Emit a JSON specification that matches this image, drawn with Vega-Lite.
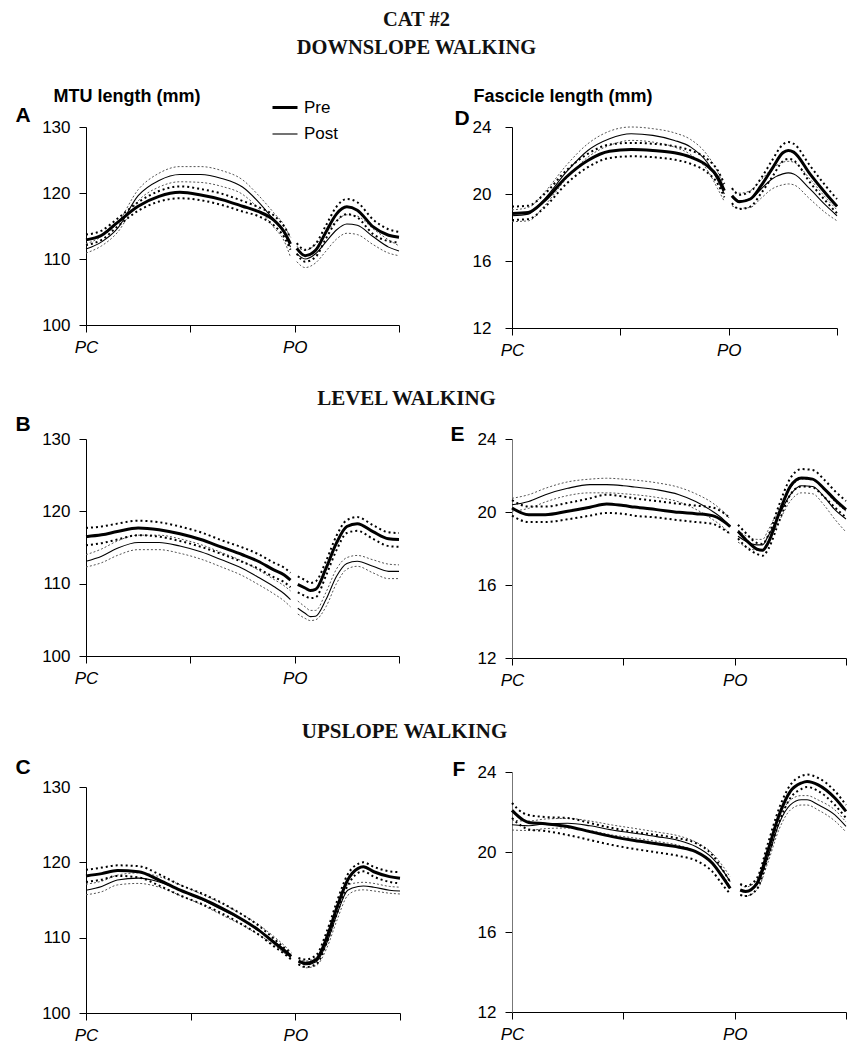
{
"$schema": "https://vega.github.io/schema/vega-lite/v6.json",
"padding": {"left": 15, "top": 9, "right": 2, "bottom": 2},
"background": "white",
"title": {"text": ["CAT #2", "DOWNSLOPE WALKING"], "font": "Liberation Serif", "fontSize": 20.5, "fontWeight": "bold", "color": "#111", "anchor": "middle", "lineHeight": 28, "offset": 29, "dx": -17},
"columns": 2,
"align": "each",
"bounds": "flush",
"spacing": {"row": 111, "column": 112},
"resolve": {"legend": {"strokeWidth": "independent"}},
"config": {
  "view": {"stroke": null},
  "axis": {"grid": false, "domainColor": "#000", "tickColor": "#000", "labelColor": "#000", "titleColor": "#000", "labelFont": "Liberation Sans", "labelFontSize": 17, "tickSize": 7, "labelPadding": 9, "labelFontWeight": "normal", "labelFlush": false}
},
"datasets": {
"A": [
{"x":0,"s":1,"Pre":112.9,"PreU":113.7,"PreL":112.1,"Post":111.5,"PostU":112.3,"PostL":110.9},
{"x":0.15,"s":1,"Pre":113.6,"PreU":114.3,"PreL":112.9,"Post":112.6,"PostU":113.4,"PostL":112.0},
{"x":0.3,"s":1,"Pre":115.5,"PreU":116.1,"PreL":114.9,"Post":114.6,"PostU":115.4,"PostL":114.0},
{"x":0.5,"s":1,"Pre":118.0,"PreU":118.6,"PreL":117.3,"Post":119.6,"PostU":120.5,"PostL":118.8},
{"x":0.7,"s":1,"Pre":119.5,"PreU":120.3,"PreL":118.7,"Post":121.9,"PostU":123.0,"PostL":120.9},
{"x":0.9,"s":1,"Pre":120.1,"PreU":121.0,"PreL":119.2,"Post":122.8,"PostU":124.0,"PostL":121.7},
{"x":1.1,"s":1,"Pre":119.7,"PreU":120.6,"PreL":118.9,"Post":122.8,"PostU":124.0,"PostL":121.6},
{"x":1.3,"s":1,"Pre":119.0,"PreU":119.9,"PreL":118.2,"Post":122.2,"PostU":123.4,"PostL":121.0},
{"x":1.5,"s":1,"Pre":118.0,"PreU":118.8,"PreL":117.2,"Post":120.9,"PostU":122.0,"PostL":119.8},
{"x":1.65,"s":1,"Pre":117.2,"PreU":117.9,"PreL":116.5,"Post":118.7,"PostU":119.7,"PostL":117.7},
{"x":1.8,"s":1,"Pre":115.9,"PreU":116.6,"PreL":115.1,"Post":115.9,"PostU":117.0,"PostL":114.8},
{"x":1.9,"s":1,"Pre":114.1,"PreU":114.9,"PreL":113.3,"Post":113.9,"PostU":115.1,"PostL":112.7},
{"x":1.96,"s":1,"Pre":112.3,"PreU":113.2,"PreL":111.4,"Post":111.8,"PostU":113.2,"PostL":110.3},
{"x":2.02,"s":2,"Pre":111.6,"PreU":112.4,"PreL":110.8,"Post":110.8,"PostU":111.9,"PostL":109.6},
{"x":2.1,"s":2,"Pre":110.5,"PreU":111.4,"PreL":109.6,"Post":110.0,"PostU":111.3,"PostL":108.7},
{"x":2.2,"s":2,"Pre":111.3,"PreU":112.3,"PreL":110.3,"Post":110.8,"PostU":112.2,"PostL":109.4},
{"x":2.3,"s":2,"Pre":114.1,"PreU":115.1,"PreL":113.1,"Post":112.6,"PostU":114.0,"PostL":111.2},
{"x":2.4,"s":2,"Pre":116.8,"PreU":117.9,"PreL":115.7,"Post":114.4,"PostU":115.8,"PostL":113.0},
{"x":2.5,"s":2,"Pre":117.9,"PreU":119.1,"PreL":116.8,"Post":115.3,"PostU":116.7,"PostL":113.9},
{"x":2.6,"s":2,"Pre":117.4,"PreU":118.6,"PreL":116.3,"Post":115.1,"PostU":116.5,"PostL":113.7},
{"x":2.75,"s":2,"Pre":114.9,"PreU":116.0,"PreL":113.8,"Post":113.4,"PostU":114.6,"PostL":112.2},
{"x":2.9,"s":2,"Pre":113.6,"PreU":114.5,"PreL":112.7,"Post":111.8,"PostU":112.9,"PostL":110.9},
{"x":3.0,"s":2,"Pre":113.3,"PreU":114.1,"PreL":112.5,"Post":111.2,"PostU":112.0,"PostL":110.5}
],
"D": [
{"x":0,"s":1,"Pre":18.84,"PreU":19.25,"PreL":18.45,"Post":18.7,"PostU":19.05,"PostL":18.35},
{"x":0.15,"s":1,"Pre":18.9,"PreU":19.3,"PreL":18.5,"Post":18.8,"PostU":19.2,"PostL":18.4},
{"x":0.3,"s":1,"Pre":19.6,"PreU":20.0,"PreL":19.2,"Post":19.7,"PostU":20.1,"PostL":19.3},
{"x":0.5,"s":1,"Pre":21.0,"PreU":21.4,"PreL":20.6,"Post":21.3,"PostU":21.7,"PostL":20.9},
{"x":0.7,"s":1,"Pre":22.0,"PreU":22.4,"PreL":21.6,"Post":22.6,"PostU":23.0,"PostL":22.2},
{"x":0.9,"s":1,"Pre":22.55,"PreU":22.95,"PreL":22.15,"Post":23.3,"PostU":23.75,"PostL":22.9},
{"x":1.1,"s":1,"Pre":22.66,"PreU":23.05,"PreL":22.25,"Post":23.6,"PostU":24.0,"PostL":23.2},
{"x":1.3,"s":1,"Pre":22.6,"PreU":23.0,"PreL":22.2,"Post":23.5,"PostU":23.9,"PostL":23.1},
{"x":1.5,"s":1,"Pre":22.46,"PreU":22.85,"PreL":22.05,"Post":23.2,"PostU":23.65,"PostL":22.8},
{"x":1.65,"s":1,"Pre":22.2,"PreU":22.6,"PreL":21.8,"Post":22.8,"PostU":23.25,"PostL":22.35},
{"x":1.8,"s":1,"Pre":21.7,"PreU":22.1,"PreL":21.3,"Post":21.9,"PostU":22.35,"PostL":21.45},
{"x":1.9,"s":1,"Pre":21.0,"PreU":21.4,"PreL":20.6,"Post":20.8,"PostU":21.3,"PostL":20.3},
{"x":1.96,"s":1,"Pre":20.2,"PreU":20.6,"PreL":19.8,"Post":20.0,"PostU":20.45,"PostL":19.55},
{"x":2.03,"s":2,"Pre":19.9,"PreU":20.35,"PreL":19.45,"Post":19.8,"PostU":20.3,"PostL":19.3},
{"x":2.1,"s":2,"Pre":19.54,"PreU":19.95,"PreL":19.1,"Post":19.6,"PostU":20.05,"PostL":19.15},
{"x":2.2,"s":2,"Pre":19.7,"PreU":20.15,"PreL":19.25,"Post":19.7,"PostU":20.2,"PostL":19.2},
{"x":2.3,"s":2,"Pre":20.5,"PreU":20.95,"PreL":20.05,"Post":20.3,"PostU":20.85,"PostL":19.75},
{"x":2.4,"s":2,"Pre":21.5,"PreU":22.0,"PreL":21.0,"Post":20.9,"PostU":21.5,"PostL":20.3},
{"x":2.5,"s":2,"Pre":22.46,"PreU":22.95,"PreL":21.95,"Post":21.2,"PostU":21.9,"PostL":20.55},
{"x":2.55,"s":2,"Pre":22.6,"PreU":23.1,"PreL":22.1,"Post":21.26,"PostU":21.95,"PostL":20.6},
{"x":2.6,"s":2,"Pre":22.5,"PreU":23.0,"PreL":22.0,"Post":21.2,"PostU":21.9,"PostL":20.55},
{"x":2.75,"s":2,"Pre":21.2,"PreU":21.7,"PreL":20.7,"Post":20.3,"PostU":20.9,"PostL":19.7},
{"x":2.9,"s":2,"Pre":20.0,"PreU":20.45,"PreL":19.55,"Post":19.3,"PostU":19.75,"PostL":18.85},
{"x":3.0,"s":2,"Pre":19.26,"PreU":19.7,"PreL":18.85,"Post":18.7,"PostU":19.05,"PostL":18.4}
],
"B": [
{"x":0,"s":1,"Pre":116.5,"PreU":117.7,"PreL":115.3,"Post":113.1,"PostU":114.0,"PostL":112.3},
{"x":0.15,"s":1,"Pre":116.75,"PreU":117.9,"PreL":115.6,"Post":113.8,"PostU":114.8,"PostL":112.9},
{"x":0.3,"s":1,"Pre":117.2,"PreU":118.3,"PreL":116.1,"Post":114.9,"PostU":115.9,"PostL":113.9},
{"x":0.5,"s":1,"Pre":117.7,"PreU":118.7,"PreL":116.7,"Post":115.7,"PostU":116.7,"PostL":114.7},
{"x":0.7,"s":1,"Pre":117.45,"PreU":118.5,"PreL":116.5,"Post":115.7,"PostU":116.7,"PostL":114.7},
{"x":0.9,"s":1,"Pre":116.9,"PreU":117.9,"PreL":115.9,"Post":115.2,"PostU":116.2,"PostL":114.2},
{"x":1.1,"s":1,"Pre":116.1,"PreU":117.1,"PreL":115.1,"Post":114.4,"PostU":115.4,"PostL":113.4},
{"x":1.3,"s":1,"Pre":115.05,"PreU":116.0,"PreL":114.1,"Post":113.3,"PostU":114.3,"PostL":112.3},
{"x":1.5,"s":1,"Pre":114.0,"PreU":115.0,"PreL":113.0,"Post":112.1,"PostU":113.1,"PostL":111.1},
{"x":1.65,"s":1,"Pre":113.1,"PreU":114.1,"PreL":112.1,"Post":110.9,"PostU":111.9,"PostL":109.9},
{"x":1.8,"s":1,"Pre":111.9,"PreU":112.9,"PreL":110.9,"Post":109.6,"PostU":110.6,"PostL":108.6},
{"x":1.9,"s":1,"Pre":111.2,"PreU":112.2,"PreL":110.2,"Post":108.6,"PostU":109.7,"PostL":107.6},
{"x":1.96,"s":1,"Pre":110.5,"PreU":111.5,"PreL":109.5,"Post":107.8,"PostU":109.0,"PostL":106.8},
{"x":2.03,"s":2,"Pre":109.9,"PreU":111.0,"PreL":108.8,"Post":106.6,"PostU":107.6,"PostL":105.8},
{"x":2.1,"s":2,"Pre":109.4,"PreU":110.5,"PreL":108.3,"Post":105.9,"PostU":106.8,"PostL":105.2},
{"x":2.15,"s":2,"Pre":109.05,"PreU":110.1,"PreL":108.0,"Post":105.45,"PostU":106.3,"PostL":104.9},
{"x":2.2,"s":2,"Pre":109.2,"PreU":110.3,"PreL":108.1,"Post":105.5,"PostU":106.3,"PostL":105.0},
{"x":2.3,"s":2,"Pre":112.1,"PreU":113.1,"PreL":111.1,"Post":107.8,"PostU":108.8,"PostL":106.8},
{"x":2.4,"s":2,"Pre":115.6,"PreU":116.6,"PreL":114.6,"Post":111.0,"PostU":112.0,"PostL":110.0},
{"x":2.5,"s":2,"Pre":117.9,"PreU":118.8,"PreL":117.0,"Post":112.8,"PostU":113.6,"PostL":112.0},
{"x":2.6,"s":2,"Pre":118.3,"PreU":119.2,"PreL":117.3,"Post":113.1,"PostU":113.9,"PostL":112.4},
{"x":2.75,"s":2,"Pre":117.2,"PreU":118.1,"PreL":116.2,"Post":112.4,"PostU":113.3,"PostL":111.5},
{"x":2.9,"s":2,"Pre":116.2,"PreU":117.1,"PreL":115.2,"Post":111.7,"PostU":112.7,"PostL":110.7},
{"x":3.0,"s":2,"Pre":116.1,"PreU":117.0,"PreL":115.1,"Post":111.7,"PostU":112.6,"PostL":110.7}
],
"E": [
{"x":0,"s":1,"Pre":20.22,"PreU":20.65,"PreL":19.8,"Post":20.4,"PostU":20.75,"PostL":20.05},
{"x":0.15,"s":1,"Pre":19.85,"PreU":20.3,"PreL":19.45,"Post":20.58,"PostU":20.95,"PostL":20.2},
{"x":0.3,"s":1,"Pre":19.85,"PreU":20.3,"PreL":19.45,"Post":20.95,"PostU":21.3,"PostL":20.55},
{"x":0.5,"s":1,"Pre":20.04,"PreU":20.5,"PreL":19.6,"Post":21.3,"PostU":21.65,"PostL":20.9},
{"x":0.7,"s":1,"Pre":20.26,"PreU":20.75,"PreL":19.8,"Post":21.5,"PostU":21.8,"PostL":21.05},
{"x":0.85,"s":1,"Pre":20.44,"PreU":20.95,"PreL":19.95,"Post":21.5,"PostU":21.85,"PostL":21.05},
{"x":1.0,"s":1,"Pre":20.35,"PreU":20.85,"PreL":19.9,"Post":21.44,"PostU":21.8,"PostL":21.0},
{"x":1.1,"s":1,"Pre":20.27,"PreU":20.75,"PreL":19.8,"Post":21.37,"PostU":21.75,"PostL":20.95},
{"x":1.3,"s":1,"Pre":20.13,"PreU":20.6,"PreL":19.7,"Post":21.22,"PostU":21.6,"PostL":20.8},
{"x":1.5,"s":1,"Pre":19.98,"PreU":20.45,"PreL":19.55,"Post":20.95,"PostU":21.35,"PostL":20.55},
{"x":1.65,"s":1,"Pre":19.91,"PreU":20.35,"PreL":19.45,"Post":20.58,"PostU":21.0,"PostL":20.15},
{"x":1.8,"s":1,"Pre":19.8,"PreU":20.25,"PreL":19.35,"Post":20.04,"PostU":20.5,"PostL":19.6},
{"x":1.9,"s":1,"Pre":19.49,"PreU":19.95,"PreL":19.05,"Post":19.58,"PostU":20.0,"PostL":19.15},
{"x":1.96,"s":1,"Pre":19.2,"PreU":19.65,"PreL":18.8,"Post":19.2,"PostU":19.6,"PostL":18.8},
{"x":2.03,"s":2,"Pre":18.94,"PreU":19.3,"PreL":18.55,"Post":18.67,"PostU":19.0,"PostL":18.35},
{"x":2.1,"s":2,"Pre":18.48,"PreU":18.85,"PreL":18.1,"Post":18.4,"PostU":18.7,"PostL":18.1},
{"x":2.2,"s":2,"Pre":17.97,"PreU":18.3,"PreL":17.7,"Post":18.2,"PostU":18.5,"PostL":17.9},
{"x":2.25,"s":2,"Pre":17.9,"PreU":18.25,"PreL":17.6,"Post":18.2,"PostU":18.5,"PostL":17.9},
{"x":2.3,"s":2,"Pre":18.3,"PreU":18.7,"PreL":17.95,"Post":18.67,"PostU":19.0,"PostL":18.35},
{"x":2.4,"s":2,"Pre":19.95,"PreU":20.4,"PreL":19.5,"Post":19.85,"PostU":20.2,"PostL":19.5},
{"x":2.5,"s":2,"Pre":21.4,"PreU":21.85,"PreL":20.95,"Post":20.95,"PostU":21.3,"PostL":20.6},
{"x":2.6,"s":2,"Pre":21.86,"PreU":22.35,"PreL":21.4,"Post":21.44,"PostU":21.8,"PostL":21.05},
{"x":2.7,"s":2,"Pre":21.8,"PreU":22.3,"PreL":21.35,"Post":21.4,"PostU":21.75,"PostL":21.0},
{"x":2.8,"s":2,"Pre":21.3,"PreU":21.8,"PreL":20.85,"Post":20.86,"PostU":21.25,"PostL":20.4},
{"x":2.9,"s":2,"Pre":20.68,"PreU":21.15,"PreL":20.25,"Post":20.13,"PostU":20.55,"PostL":19.6},
{"x":3.0,"s":2,"Pre":20.13,"PreU":20.6,"PreL":19.7,"Post":19.62,"PostU":20.05,"PostL":18.9}
],
"C": [
{"x":0,"s":1,"Pre":118.2,"PreU":119.0,"PreL":117.4,"Post":116.3,"PostU":117.1,"PostL":115.7},
{"x":0.15,"s":1,"Pre":118.5,"PreU":119.3,"PreL":117.7,"Post":116.8,"PostU":117.5,"PostL":116.1},
{"x":0.3,"s":1,"Pre":118.9,"PreU":119.6,"PreL":118.2,"Post":117.65,"PostU":118.3,"PostL":117.0},
{"x":0.5,"s":1,"Pre":118.75,"PreU":119.5,"PreL":118.0,"Post":117.9,"PostU":118.6,"PostL":117.2},
{"x":0.7,"s":1,"Pre":117.65,"PreU":118.4,"PreL":116.9,"Post":117.4,"PostU":118.1,"PostL":116.7},
{"x":0.9,"s":1,"Pre":116.3,"PreU":117.0,"PreL":115.6,"Post":116.3,"PostU":117.0,"PostL":115.6},
{"x":1.1,"s":1,"Pre":115.2,"PreU":115.9,"PreL":114.5,"Post":115.1,"PostU":115.8,"PostL":114.4},
{"x":1.3,"s":1,"Pre":113.9,"PreU":114.6,"PreL":113.2,"Post":113.7,"PostU":114.5,"PostL":113.0},
{"x":1.5,"s":1,"Pre":112.35,"PreU":113.0,"PreL":111.7,"Post":112.3,"PostU":113.0,"PostL":111.6},
{"x":1.65,"s":1,"Pre":111.0,"PreU":111.6,"PreL":110.4,"Post":111.0,"PostU":111.7,"PostL":110.4},
{"x":1.8,"s":1,"Pre":109.3,"PreU":109.8,"PreL":108.8,"Post":109.5,"PostU":110.1,"PostL":109.0},
{"x":1.9,"s":1,"Pre":108.2,"PreU":108.6,"PreL":107.8,"Post":108.4,"PostU":108.9,"PostL":107.9},
{"x":1.96,"s":1,"Pre":107.5,"PreU":107.9,"PreL":107.1,"Post":107.7,"PostU":108.1,"PostL":107.3},
{"x":2.03,"s":2,"Pre":106.9,"PreU":107.3,"PreL":106.5,"Post":106.8,"PostU":107.2,"PostL":106.4},
{"x":2.1,"s":2,"Pre":106.6,"PreU":107.1,"PreL":106.1,"Post":106.4,"PostU":106.9,"PostL":106.0},
{"x":2.2,"s":2,"Pre":107.1,"PreU":107.7,"PreL":106.5,"Post":106.8,"PostU":107.4,"PostL":106.3},
{"x":2.3,"s":2,"Pre":110.0,"PreU":110.8,"PreL":109.3,"Post":109.3,"PostU":110.1,"PostL":108.6},
{"x":2.4,"s":2,"Pre":114.1,"PreU":114.9,"PreL":113.3,"Post":113.2,"PostU":114.0,"PostL":112.4},
{"x":2.5,"s":2,"Pre":117.65,"PreU":118.4,"PreL":116.9,"Post":116.3,"PostU":117.0,"PostL":115.6},
{"x":2.6,"s":2,"Pre":119.2,"PreU":119.8,"PreL":118.6,"Post":116.8,"PostU":117.3,"PostL":116.3},
{"x":2.65,"s":2,"Pre":119.4,"PreU":120.0,"PreL":118.8,"Post":116.85,"PostU":117.35,"PostL":116.35},
{"x":2.75,"s":2,"Pre":118.75,"PreU":119.4,"PreL":118.1,"Post":116.7,"PostU":117.2,"PostL":116.2},
{"x":2.9,"s":2,"Pre":118.1,"PreU":118.8,"PreL":117.4,"Post":116.3,"PostU":116.8,"PostL":115.9},
{"x":3.0,"s":2,"Pre":117.9,"PreU":118.7,"PreL":117.2,"Post":116.2,"PostU":116.7,"PostL":115.8}
],
"F": [
{"x":0,"s":1,"Pre":22.08,"PreU":22.45,"PreL":21.7,"Post":21.36,"PostU":21.6,"PostL":21.1},
{"x":0.1,"s":1,"Pre":21.6,"PreU":21.95,"PreL":21.25,"Post":21.32,"PostU":21.55,"PostL":21.08},
{"x":0.15,"s":1,"Pre":21.48,"PreU":21.85,"PreL":21.12,"Post":21.31,"PostU":21.55,"PostL":21.08},
{"x":0.3,"s":1,"Pre":21.41,"PreU":21.75,"PreL":21.05,"Post":21.41,"PostU":21.65,"PostL":21.17},
{"x":0.5,"s":1,"Pre":21.28,"PreU":21.7,"PreL":20.85,"Post":21.44,"PostU":21.68,"PostL":21.2},
{"x":0.7,"s":1,"Pre":21.02,"PreU":21.45,"PreL":20.6,"Post":21.31,"PostU":21.55,"PostL":21.07},
{"x":0.9,"s":1,"Pre":20.77,"PreU":21.2,"PreL":20.35,"Post":21.1,"PostU":21.35,"PostL":20.85},
{"x":1.1,"s":1,"Pre":20.57,"PreU":21.0,"PreL":20.15,"Post":20.94,"PostU":21.18,"PostL":20.7},
{"x":1.3,"s":1,"Pre":20.41,"PreU":20.85,"PreL":19.98,"Post":20.77,"PostU":21.0,"PostL":20.53},
{"x":1.5,"s":1,"Pre":20.24,"PreU":20.68,"PreL":19.8,"Post":20.57,"PostU":20.8,"PostL":20.33},
{"x":1.65,"s":1,"Pre":20.02,"PreU":20.45,"PreL":19.58,"Post":20.27,"PostU":20.5,"PostL":20.03},
{"x":1.8,"s":1,"Pre":19.44,"PreU":19.85,"PreL":19.02,"Post":19.69,"PostU":19.93,"PostL":19.45},
{"x":1.9,"s":1,"Pre":18.68,"PreU":19.05,"PreL":18.3,"Post":19.02,"PostU":19.25,"PostL":18.78},
{"x":1.96,"s":1,"Pre":18.18,"PreU":18.5,"PreL":17.9,"Post":18.52,"PostU":18.75,"PostL":18.3},
{"x":2.05,"s":2,"Pre":18.1,"PreU":18.4,"PreL":17.85,"Post":18.1,"PostU":18.35,"PostL":17.85},
{"x":2.1,"s":2,"Pre":18.02,"PreU":18.3,"PreL":17.8,"Post":18.02,"PostU":18.25,"PostL":17.8},
{"x":2.2,"s":2,"Pre":18.43,"PreU":18.7,"PreL":18.15,"Post":18.35,"PostU":18.6,"PostL":18.1},
{"x":2.3,"s":2,"Pre":20.1,"PreU":20.45,"PreL":19.75,"Post":19.77,"PostU":20.05,"PostL":19.5},
{"x":2.4,"s":2,"Pre":21.86,"PreU":22.2,"PreL":21.5,"Post":21.44,"PostU":21.7,"PostL":21.15},
{"x":2.5,"s":2,"Pre":23.03,"PreU":23.35,"PreL":22.7,"Post":22.36,"PostU":22.6,"PostL":22.1},
{"x":2.6,"s":2,"Pre":23.45,"PreU":23.8,"PreL":23.15,"Post":22.61,"PostU":22.82,"PostL":22.35},
{"x":2.65,"s":2,"Pre":23.53,"PreU":23.87,"PreL":23.25,"Post":22.61,"PostU":22.82,"PostL":22.35},
{"x":2.75,"s":2,"Pre":23.36,"PreU":23.7,"PreL":23.05,"Post":22.36,"PostU":22.6,"PostL":22.1},
{"x":2.9,"s":2,"Pre":22.7,"PreU":23.05,"PreL":22.35,"Post":21.86,"PostU":22.1,"PostL":21.55},
{"x":3.0,"s":2,"Pre":22.03,"PreU":22.35,"PreL":21.7,"Post":21.28,"PostU":21.5,"PostL":21.0}
]
},
"concat": [
{
 "width": 313, "height": 198,
 "data": {"name": "A"},
 "encoding": {
  "x": {"field": "x", "type": "quantitative", "scale": {"domain": [0, 3], "nice": false}, "axis": {"values": [0, 1, 2, 3], "labelExpr": "datum.value == 0 ? 'PC' : datum.value == 2 ? 'PO' : ''", "labelFontStyle": "italic", "labelPadding": 7, "title": "MTU length (mm)", "titleX": -33, "titleY": -224, "titleAlign": "left", "titleBaseline": "alphabetic", "titleFont": "Liberation Sans", "titleFontSize": 18, "titleFontWeight": "bold"}},
  "y": {"field": "v", "type": "quantitative", "scale": {"domain": [100, 130], "nice": false, "zero": false}, "axis": {"values": [100, 110, 120, 130], "title": "A", "titleAngle": 0, "titleX": -71, "titleY": -6, "titleAlign": "left", "titleBaseline": "alphabetic", "titleFont": "Liberation Sans", "titleFontSize": 21, "titleFontWeight": "bold"}}
 },
 "layer": [
  {"transform": [{"fold": ["PostU", "PostL"], "as": ["g", "v"]}], "mark": {"type": "line", "color": "#555", "strokeWidth": 1, "strokeDash": [2, 2], "interpolate": "monotone"}, "encoding": {"detail": [{"field": "g"}, {"field": "s"}]}},
  {"transform": [{"fold": ["PreU", "PreL"], "as": ["g", "v"]}], "mark": {"type": "line", "color": "#000", "strokeWidth": 2, "strokeDash": [2, 3], "interpolate": "monotone"}, "encoding": {"detail": [{"field": "g"}, {"field": "s"}]}},
  {"transform": [{"fold": ["Pre", "Post"], "as": ["g", "v"]}], "mark": {"type": "line", "color": "#000", "interpolate": "monotone"}, "encoding": {"detail": {"field": "s"}, "strokeWidth": {"field": "g", "type": "nominal", "scale": {"domain": ["Pre", "Post"], "range": [3, 1.1]}, "legend": {"orient": "none", "legendX": 185, "legendY": -33.5, "title": null, "symbolType": "stroke", "symbolSize": 625, "symbolStrokeColor": "#000", "labelFont": "Liberation Sans", "labelFontSize": 17, "labelColor": "#000", "labelOffset": 5, "rowPadding": 5, "padding": 0}}}}
 ]
},
{
 "width": 325, "height": 201,
 "data": {"name": "D"},
 "encoding": {
  "x": {"field": "x", "type": "quantitative", "scale": {"domain": [0, 3], "nice": false}, "axis": {"values": [0, 1, 2, 3], "labelExpr": "datum.value == 0 ? 'PC' : datum.value == 2 ? 'PO' : ''", "labelFontStyle": "italic", "labelPadding": 7, "title": "Fascicle length (mm)", "titleX": -39, "titleY": -227, "titleAlign": "left", "titleBaseline": "alphabetic", "titleFont": "Liberation Sans", "titleFontSize": 18, "titleFontWeight": "bold"}},
  "y": {"field": "v", "type": "quantitative", "scale": {"domain": [12, 24], "nice": false, "zero": false}, "axis": {"values": [12, 16, 20, 24], "labelPadding": 14, "title": "D", "titleAngle": 0, "titleX": -58, "titleY": -3, "titleAlign": "left", "titleBaseline": "alphabetic", "titleFont": "Liberation Sans", "titleFontSize": 21, "titleFontWeight": "bold"}}
 },
 "layer": [
  {"transform": [{"fold": ["PostU", "PostL"], "as": ["g", "v"]}], "mark": {"type": "line", "color": "#555", "strokeWidth": 1, "strokeDash": [2, 2], "interpolate": "monotone"}, "encoding": {"detail": [{"field": "g"}, {"field": "s"}]}},
  {"transform": [{"fold": ["PreU", "PreL"], "as": ["g", "v"]}], "mark": {"type": "line", "color": "#000", "strokeWidth": 2, "strokeDash": [2, 3], "interpolate": "monotone"}, "encoding": {"detail": [{"field": "g"}, {"field": "s"}]}},
  {"transform": [{"fold": ["Pre", "Post"], "as": ["g", "v"]}], "mark": {"type": "line", "color": "#000", "interpolate": "monotone"}, "encoding": {"detail": {"field": "s"}, "strokeWidth": {"field": "g", "type": "nominal", "scale": {"domain": ["Pre", "Post"], "range": [3, 1.1]}, "legend": null}}}
 ]
},
{
 "width": 313, "height": 217,
 "data": {"name": "B"},
 "encoding": {
  "x": {"field": "x", "type": "quantitative", "scale": {"domain": [0, 3], "nice": false}, "axis": {"values": [0, 1, 2, 3], "labelExpr": "datum.value == 0 ? 'PC' : datum.value == 2 ? 'PO' : ''", "labelFontStyle": "italic", "labelPadding": 7, "title": "LEVEL WALKING", "titleX": 320, "titleY": -252, "titleAlign": "center", "titleBaseline": "alphabetic", "titleFont": "Liberation Serif", "titleFontSize": 21, "titleFontWeight": "bold", "titleColor": "#111"}},
  "y": {"field": "v", "type": "quantitative", "scale": {"domain": [100, 130], "nice": false, "zero": false}, "axis": {"values": [100, 110, 120, 130], "title": "B", "titleAngle": 0, "titleX": -71, "titleY": -9, "titleAlign": "left", "titleBaseline": "alphabetic", "titleFont": "Liberation Sans", "titleFontSize": 21, "titleFontWeight": "bold"}}
 },
 "layer": [
  {"transform": [{"fold": ["PostU", "PostL"], "as": ["g", "v"]}], "mark": {"type": "line", "color": "#555", "strokeWidth": 1, "strokeDash": [2, 2], "interpolate": "monotone"}, "encoding": {"detail": [{"field": "g"}, {"field": "s"}]}},
  {"transform": [{"fold": ["PreU", "PreL"], "as": ["g", "v"]}], "mark": {"type": "line", "color": "#000", "strokeWidth": 2, "strokeDash": [2, 3], "interpolate": "monotone"}, "encoding": {"detail": [{"field": "g"}, {"field": "s"}]}},
  {"transform": [{"fold": ["Pre", "Post"], "as": ["g", "v"]}], "mark": {"type": "line", "color": "#000", "interpolate": "monotone"}, "encoding": {"detail": {"field": "s"}, "strokeWidth": {"field": "g", "type": "nominal", "scale": {"domain": ["Pre", "Post"], "range": [3, 1.1]}, "legend": null}}}
 ]
},
{
 "width": 334, "height": 219,
 "data": {"name": "E"},
 "encoding": {
  "x": {"field": "x", "type": "quantitative", "scale": {"domain": [0, 3], "nice": false}, "axis": {"values": [0, 1, 2, 3], "labelExpr": "datum.value == 0 ? 'PC' : datum.value == 2 ? 'PO' : ''", "labelFontStyle": "italic", "labelPadding": 7, "title": null}},
  "y": {"field": "v", "type": "quantitative", "scale": {"domain": [12, 24], "nice": false, "zero": false}, "axis": {"values": [12, 16, 20, 24], "domainColor": "#777", "title": "E", "titleAngle": 0, "titleX": -62, "titleY": 1, "titleAlign": "left", "titleBaseline": "alphabetic", "titleFont": "Liberation Sans", "titleFontSize": 21, "titleFontWeight": "bold"}}
 },
 "layer": [
  {"transform": [{"fold": ["PostU", "PostL"], "as": ["g", "v"]}], "mark": {"type": "line", "color": "#555", "strokeWidth": 1, "strokeDash": [2, 2], "interpolate": "monotone"}, "encoding": {"detail": [{"field": "g"}, {"field": "s"}]}},
  {"transform": [{"fold": ["PreU", "PreL"], "as": ["g", "v"]}], "mark": {"type": "line", "color": "#000", "strokeWidth": 2, "strokeDash": [2, 3], "interpolate": "monotone"}, "encoding": {"detail": [{"field": "g"}, {"field": "s"}]}},
  {"transform": [{"fold": ["Pre", "Post"], "as": ["g", "v"]}], "mark": {"type": "line", "color": "#000", "interpolate": "monotone"}, "encoding": {"detail": {"field": "s"}, "strokeWidth": {"field": "g", "type": "nominal", "scale": {"domain": ["Pre", "Post"], "range": [3, 1.1]}, "legend": null}}}
 ]
},
{
 "width": 314, "height": 244,
 "data": {"name": "C"},
 "encoding": {
  "x": {"field": "x", "type": "quantitative", "scale": {"domain": [0, 3], "nice": false}, "axis": {"values": [0, 1, 2, 3], "labelExpr": "datum.value == 0 ? 'PC' : datum.value == 2 ? 'PO' : ''", "labelFontStyle": "italic", "labelPadding": 7, "title": "UPSLOPE WALKING", "titleX": 318, "titleY": -276, "titleAlign": "center", "titleBaseline": "alphabetic", "titleFont": "Liberation Serif", "titleFontSize": 21, "titleFontWeight": "bold", "titleColor": "#111"}},
  "y": {"field": "v", "type": "quantitative", "scale": {"domain": [100, 130], "nice": false, "zero": false, "range": [244, 18]}, "axis": {"values": [100, 110, 120, 130], "title": "C", "titleAngle": 0, "titleX": -71, "titleY": 4, "titleAlign": "left", "titleBaseline": "alphabetic", "titleFont": "Liberation Sans", "titleFontSize": 21, "titleFontWeight": "bold"}}
 },
 "layer": [
  {"transform": [{"fold": ["PostU", "PostL"], "as": ["g", "v"]}], "mark": {"type": "line", "color": "#555", "strokeWidth": 1, "strokeDash": [2, 2], "interpolate": "monotone"}, "encoding": {"detail": [{"field": "g"}, {"field": "s"}]}},
  {"transform": [{"fold": ["PreU", "PreL"], "as": ["g", "v"]}], "mark": {"type": "line", "color": "#000", "strokeWidth": 2, "strokeDash": [2, 3], "interpolate": "monotone"}, "encoding": {"detail": [{"field": "g"}, {"field": "s"}]}},
  {"transform": [{"fold": ["Pre", "Post"], "as": ["g", "v"]}], "mark": {"type": "line", "color": "#000", "interpolate": "monotone"}, "encoding": {"detail": {"field": "s"}, "strokeWidth": {"field": "g", "type": "nominal", "scale": {"domain": ["Pre", "Post"], "range": [3, 1.1]}, "legend": null}}}
 ]
},
{
 "width": 334, "height": 243,
 "data": {"name": "F"},
 "encoding": {
  "x": {"field": "x", "type": "quantitative", "scale": {"domain": [0, 3], "nice": false}, "axis": {"values": [0, 1, 2, 3], "labelExpr": "datum.value == 0 ? 'PC' : datum.value == 2 ? 'PO' : ''", "labelFontStyle": "italic", "labelPadding": 7, "title": null}},
  "y": {"field": "v", "type": "quantitative", "scale": {"domain": [12, 24], "nice": false, "zero": false, "range": [243, 3]}, "axis": {"values": [12, 16, 20, 24], "domainColor": "#777", "title": "F", "titleAngle": 0, "titleX": -60, "titleY": 6, "titleAlign": "left", "titleBaseline": "alphabetic", "titleFont": "Liberation Sans", "titleFontSize": 21, "titleFontWeight": "bold"}}
 },
 "layer": [
  {"transform": [{"fold": ["PostU", "PostL"], "as": ["g", "v"]}], "mark": {"type": "line", "color": "#555", "strokeWidth": 1, "strokeDash": [2, 2], "interpolate": "monotone"}, "encoding": {"detail": [{"field": "g"}, {"field": "s"}]}},
  {"transform": [{"fold": ["PreU", "PreL"], "as": ["g", "v"]}], "mark": {"type": "line", "color": "#000", "strokeWidth": 2, "strokeDash": [2, 3], "interpolate": "monotone"}, "encoding": {"detail": [{"field": "g"}, {"field": "s"}]}},
  {"transform": [{"fold": ["Pre", "Post"], "as": ["g", "v"]}], "mark": {"type": "line", "color": "#000", "interpolate": "monotone"}, "encoding": {"detail": {"field": "s"}, "strokeWidth": {"field": "g", "type": "nominal", "scale": {"domain": ["Pre", "Post"], "range": [3, 1.1]}, "legend": null}}}
 ]
}
]
}
